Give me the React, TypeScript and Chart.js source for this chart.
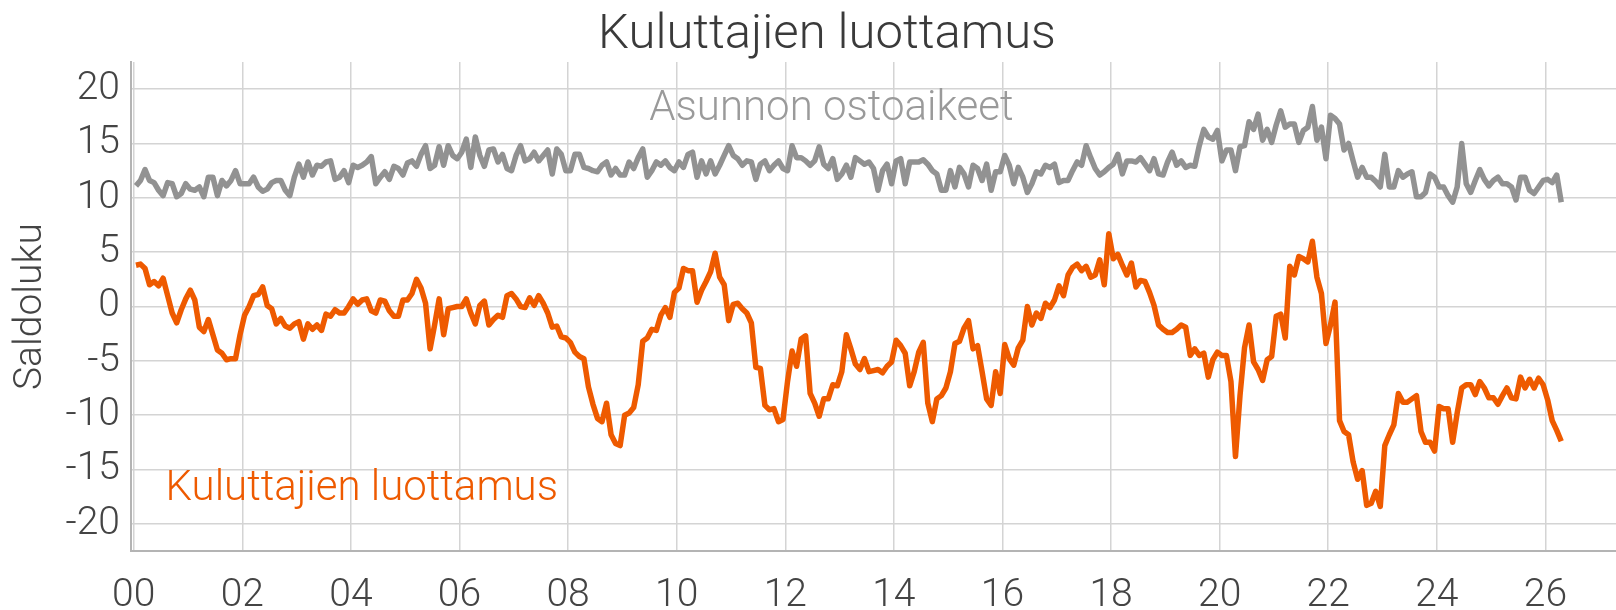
import React, { useEffect, useRef } from "react";
import { Chart, registerables } from "chart.js";

Chart.register(...registerables);

// Monthly data, Jan 2000 – Apr 2026 (one row per year)
const consumerConfidence: number[] = [
  3.8, 3.9, 3.5, 2.0, 2.3, 1.9, 2.6, 1.0, -0.6, -1.5, -0.3, 0.7,
  1.5, 0.6, -1.9, -2.3, -1.2, -2.6, -4.0, -4.3, -4.9, -4.8, -4.8, -2.6,
  -0.8, 0.0, 1.0, 1.1, 1.8, 0.1, -0.2, -1.6, -1.1, -1.8, -2.0, -1.6,
  -1.4, -3.0, -1.6, -2.1, -1.7, -2.2, -0.7, -0.9, -0.3, -0.6, -0.6, 0.0,
  0.7, 0.2, 0.6, 0.7, -0.4, -0.6, 0.6, 0.5, -0.4, -0.9, -0.9, 0.6,
  0.6, 1.2, 2.5, 1.7, 0.3, -3.9, -1.7, 0.7, -2.6, -0.2, -0.1, 0.0,
  0.0, 0.7, -0.6, -1.6, 0.1, 0.5, -1.7, -1.2, -0.8, -1.0, 1.0, 1.2,
  0.7, 0.0, -0.1, 0.8, 0.1, 1.0, 0.3, -0.6, -1.9, -1.8, -2.8, -2.9,
  -3.3, -4.2, -4.6, -4.8, -7.4, -9.0, -10.3, -10.6, -8.9, -11.8, -12.6, -12.8,
  -10.0, -9.8, -9.3, -7.2, -3.2, -2.9, -2.1, -2.2, -0.8, -0.1, -1.0, 1.3,
  1.7, 3.5, 3.3, 3.3, 0.4, 1.5, 2.3, 3.2, 4.9, 2.7, 2.0, -1.3,
  0.2, 0.3, -0.2, -0.6, -1.5, -5.6, -5.7, -9.1, -9.5, -9.4, -10.6, -10.4,
  -6.9, -4.1, -5.5, -3.0, -2.7, -8.0, -8.9, -10.1, -8.5, -8.5, -7.2, -7.3,
  -6.0, -2.6, -3.9, -5.3, -5.8, -4.8, -6.0, -5.9, -5.8, -6.1, -5.5, -5.1,
  -3.1, -3.6, -4.3, -7.3, -6.0, -4.2, -3.3, -8.9, -10.6, -8.5, -8.2, -7.5,
  -6.0, -3.4, -3.2, -2.0, -1.3, -3.9, -3.6, -6.0, -8.5, -9.1, -6.0, -8.0,
  -3.5, -4.8, -5.4, -3.8, -3.1, 0.0, -1.7, -0.6, -1.1, 0.3, -0.1, 0.6,
  1.9, 1.0, 2.9, 3.6, 3.9, 3.3, 3.7, 2.7, 2.9, 4.3, 2.0, 6.7,
  4.4, 4.8, 3.8, 2.9, 4.0, 1.8, 2.4, 2.3, 1.3, 0.1, -1.7, -2.1,
  -2.4, -2.4, -2.1, -1.7, -1.9, -4.5, -3.9, -4.5, -4.3, -6.5, -4.9, -4.2,
  -4.5, -4.5, -6.9, -13.8, -8.2, -3.8, -1.7, -5.1, -5.8, -6.8, -4.9, -4.6,
  -0.9, -0.7, -2.9, 3.7, 2.9, 4.6, 4.4, 4.1, 6.0, 2.7, 1.2, -3.4,
  -1.7, 0.4, -10.5, -11.5, -11.8, -14.3, -15.9, -15.1, -18.3, -18.1, -17.0, -18.4,
  -12.8, -11.8, -10.9, -8.0, -8.8, -8.8, -8.5, -8.2, -11.5, -12.5, -12.5, -13.3,
  -9.2, -9.4, -9.4, -12.5, -9.8, -7.5, -7.2, -7.2, -8.1, -6.9, -7.5, -8.4,
  -8.4, -9.0, -8.2, -7.5, -8.4, -8.5, -6.5, -7.5, -6.7, -7.5, -6.6, -7.2,
  -8.6, -10.5, -11.4, -12.4,
];

const housePurchaseIntentions: number[] = [
  11.1, 11.6, 12.6, 11.6, 11.4, 10.7, 10.2, 11.4, 11.3, 10.1, 10.4, 11.3,
  10.8, 10.7, 11.0, 10.1, 11.9, 11.9, 10.2, 11.6, 11.1, 11.6, 12.5, 11.3,
  11.3, 11.3, 11.9, 11.0, 10.6, 10.8, 11.4, 11.6, 11.6, 10.7, 10.2, 11.9,
  13.1, 11.9, 13.3, 12.1, 13.0, 12.9, 13.3, 13.4, 11.7, 11.9, 12.5, 11.4,
  13.0, 12.8, 13.0, 13.3, 13.8, 11.3, 11.9, 12.4, 11.7, 12.9, 12.7, 12.1,
  13.2, 13.4, 12.9, 14.0, 14.8, 12.7, 13.0, 14.7, 13.0, 14.8, 13.9, 13.6,
  14.2, 15.4, 12.8, 15.6, 13.9, 12.9, 14.4, 14.5, 13.3, 14.0, 12.7, 12.5,
  13.9, 14.8, 13.4, 13.6, 14.2, 13.4, 13.9, 14.4, 12.2, 14.5, 14.0, 12.5,
  12.5, 14.0, 14.0, 12.8, 12.7, 12.5, 12.4, 13.0, 13.3, 12.1, 12.7, 12.1,
  12.1, 13.3, 12.7, 13.7, 14.5, 11.9, 12.5, 13.3, 13.0, 13.4, 12.8, 12.5,
  13.3, 12.8, 14.0, 14.2, 11.9, 13.4, 12.2, 13.4, 12.2, 13.0, 13.9, 14.8,
  13.9, 13.6, 13.0, 13.4, 13.3, 11.7, 13.1, 13.4, 12.5, 13.0, 13.4, 12.7,
  12.5, 14.8, 13.7, 13.7, 13.4, 13.0, 13.4, 14.7, 13.1, 12.7, 13.6, 11.7,
  12.2, 13.0, 11.9, 13.7, 13.4, 13.1, 13.3, 12.7, 10.7, 12.5, 13.1, 11.3,
  13.4, 13.6, 11.3, 13.3, 13.3, 13.3, 13.5, 13.1, 12.5, 12.2, 10.7, 10.7,
  12.5, 11.0, 12.8, 12.2, 11.0, 13.0, 12.7, 11.6, 13.1, 10.7, 12.4, 12.4,
  13.9, 13.0, 11.3, 12.8, 11.9, 10.5, 11.3, 12.4, 12.2, 13.0, 12.8, 13.1,
  11.4, 11.6, 11.6, 12.5, 13.3, 13.0, 14.8, 13.7, 12.7, 12.1, 12.4, 12.8,
  13.1, 14.0, 12.2, 13.4, 13.4, 13.3, 13.7, 13.1, 12.5, 13.6, 12.2, 12.1,
  13.3, 14.2, 13.0, 13.4, 12.8, 13.0, 12.9, 14.8, 16.3, 15.6, 15.4, 16.2,
  13.4, 14.4, 14.4, 12.5, 14.7, 14.8, 17.0, 16.3, 17.7, 15.3, 16.3, 15.1,
  16.7, 18.0, 16.5, 16.8, 16.8, 15.1, 16.2, 16.5, 18.4, 15.3, 16.5, 13.6,
  17.6, 17.3, 16.8, 14.4, 15.0, 13.4, 11.9, 12.8, 11.9, 11.9, 11.5, 11.0,
  14.0, 11.0, 11.0, 12.5, 11.9, 12.2, 12.4, 10.1, 10.1, 10.5, 12.2, 11.9,
  11.0, 11.0, 10.2, 9.6, 11.0, 15.0, 11.3, 10.5, 11.6, 12.6, 11.7, 11.1,
  11.6, 11.9, 11.3, 11.3, 11.0, 9.8, 11.9, 11.9, 10.7, 10.4, 11.0, 11.6,
  11.7, 11.4, 12.1, 9.6,
];

const xTickValues: number[] = [0, 2, 4, 6, 8, 10, 12, 14, 16, 18, 20, 22, 24, 26];
const xTickLabels: string[] = ["00", "02", "04", "06", "08", "10", "12", "14", "16", "18", "20", "22", "24", "26"];
const yTickValues: number[] = [-20, -15, -10, -5, 0, 5, 10, 15, 20];

const TITLE = "Kuluttajien luottamus";
const Y_TITLE = "Saldoluku";
const ORANGE = "#EE5A00";
const GREY = "#929292";
const TEXT = "#444444";
const FONT = "Roboto, 'Noto Sans', sans-serif";

// series labels placed in data coordinates (years since 2000, saldo)
const seriesLabels = [
  { text: "Asunnon ostoaikeet", x: 12.85, y: 17.2, color: "#9a9a9a" },
  { text: "Kuluttajien luottamus", x: 4.2, y: -17.8, color: ORANGE },
];

const toPoints = (vals: number[]) => vals.map((v, i) => ({ x: (i + 0.5) / 12, y: v }));

const labelPlugin = {
  id: "seriesLabels",
  afterDatasetsDraw(chart: any) {
    const { ctx, scales } = chart;
    ctx.save();
    ctx.font = `300 42px ${FONT}`;
    ctx.textAlign = "center";
    ctx.textBaseline = "alphabetic";
    for (const l of seriesLabels) {
      ctx.fillStyle = l.color;
      ctx.fillText(l.text, scales.x.getPixelForValue(l.x), scales.y.getPixelForValue(l.y));
    }
    ctx.restore();
  },
};

const titlePlugin = {
  id: "chartTitleText",
  afterDraw(chart: any) {
    const { ctx } = chart;
    ctx.save();
    ctx.font = `300 49px ${FONT}`;
    ctx.fillStyle = "#3a3a3a";
    ctx.textAlign = "center";
    ctx.textBaseline = "alphabetic";
    ctx.fillText(TITLE, 827, 48);
    ctx.restore();
  },
};

export default function App() {
  const ref = useRef<HTMLCanvasElement | null>(null);
  useEffect(() => {
    if (!ref.current) return;
    const chart = new Chart(ref.current, {
      type: "line",
      data: {
        datasets: [
          {
            label: "Asunnon ostoaikeet",
            data: toPoints(housePurchaseIntentions),
            borderColor: GREY,
            borderWidth: 5.5,
            pointRadius: 0,
            borderJoinStyle: "round",
            tension: 0,
          },
          {
            label: "Kuluttajien luottamus",
            data: toPoints(consumerConfidence),
            borderColor: ORANGE,
            borderWidth: 5.5,
            pointRadius: 0,
            borderJoinStyle: "round",
            tension: 0,
          },
        ],
      },
      options: {
        animation: false,
        responsive: false,
        maintainAspectRatio: false,
        layout: { padding: { left: 0, right: 0, top: 62, bottom: 0 } },
        plugins: {
          legend: { display: false },
          tooltip: { enabled: false },
          title: { display: false },
        },
        scales: {
          x: {
            type: "linear",
            min: -0.05,
            max: 27.3,
            afterBuildTicks: (s: any) => {
              s.ticks = xTickValues.map((v) => ({ value: v }));
            },
            afterFit: (s: any) => {
              s.height = 59;
            },
            grid: { color: "#d4d4d4", lineWidth: 1.5, drawTicks: false },
            border: { display: true, color: "#b4b4b4", width: 2 },
            ticks: {
              autoSkip: false,
              maxRotation: 0,
              padding: 22,
              color: TEXT,
              font: { family: FONT, size: 39, weight: "300" as any },
              callback: (v: any) => {
                const k = xTickValues.indexOf(Number(v));
                return k >= 0 ? xTickLabels[k] : "";
              },
            },
          },
          y: {
            type: "linear",
            min: -22.5,
            max: 22.5,
            afterBuildTicks: (s: any) => {
              s.ticks = yTickValues.map((v) => ({ value: v }));
            },
            afterFit: (s: any) => {
              s.width = 131;
            },
            grid: { color: "#d4d4d4", lineWidth: 1.5, drawTicks: false },
            border: { display: true, color: "#b4b4b4", width: 2 },
            ticks: {
              padding: 11,
              color: TEXT,
              font: { family: FONT, size: 39, weight: "300" as any },
            },
            title: {
              display: true,
              text: Y_TITLE,
              color: TEXT,
              font: { family: FONT, size: 39, weight: "300" as any },
              padding: { top: 8, bottom: 0 },
            },
          },
        },
      },
      plugins: [labelPlugin, titlePlugin],
    });
    return () => chart.destroy();
  }, []);

  return (
    <div style={{ position: "fixed", left: 0, top: 0, width: 1616, height: 610, background: "#fff" }}>
      <canvas ref={ref} width={1616} height={610} style={{ display: "block" }} />
    </div>
  );
}
